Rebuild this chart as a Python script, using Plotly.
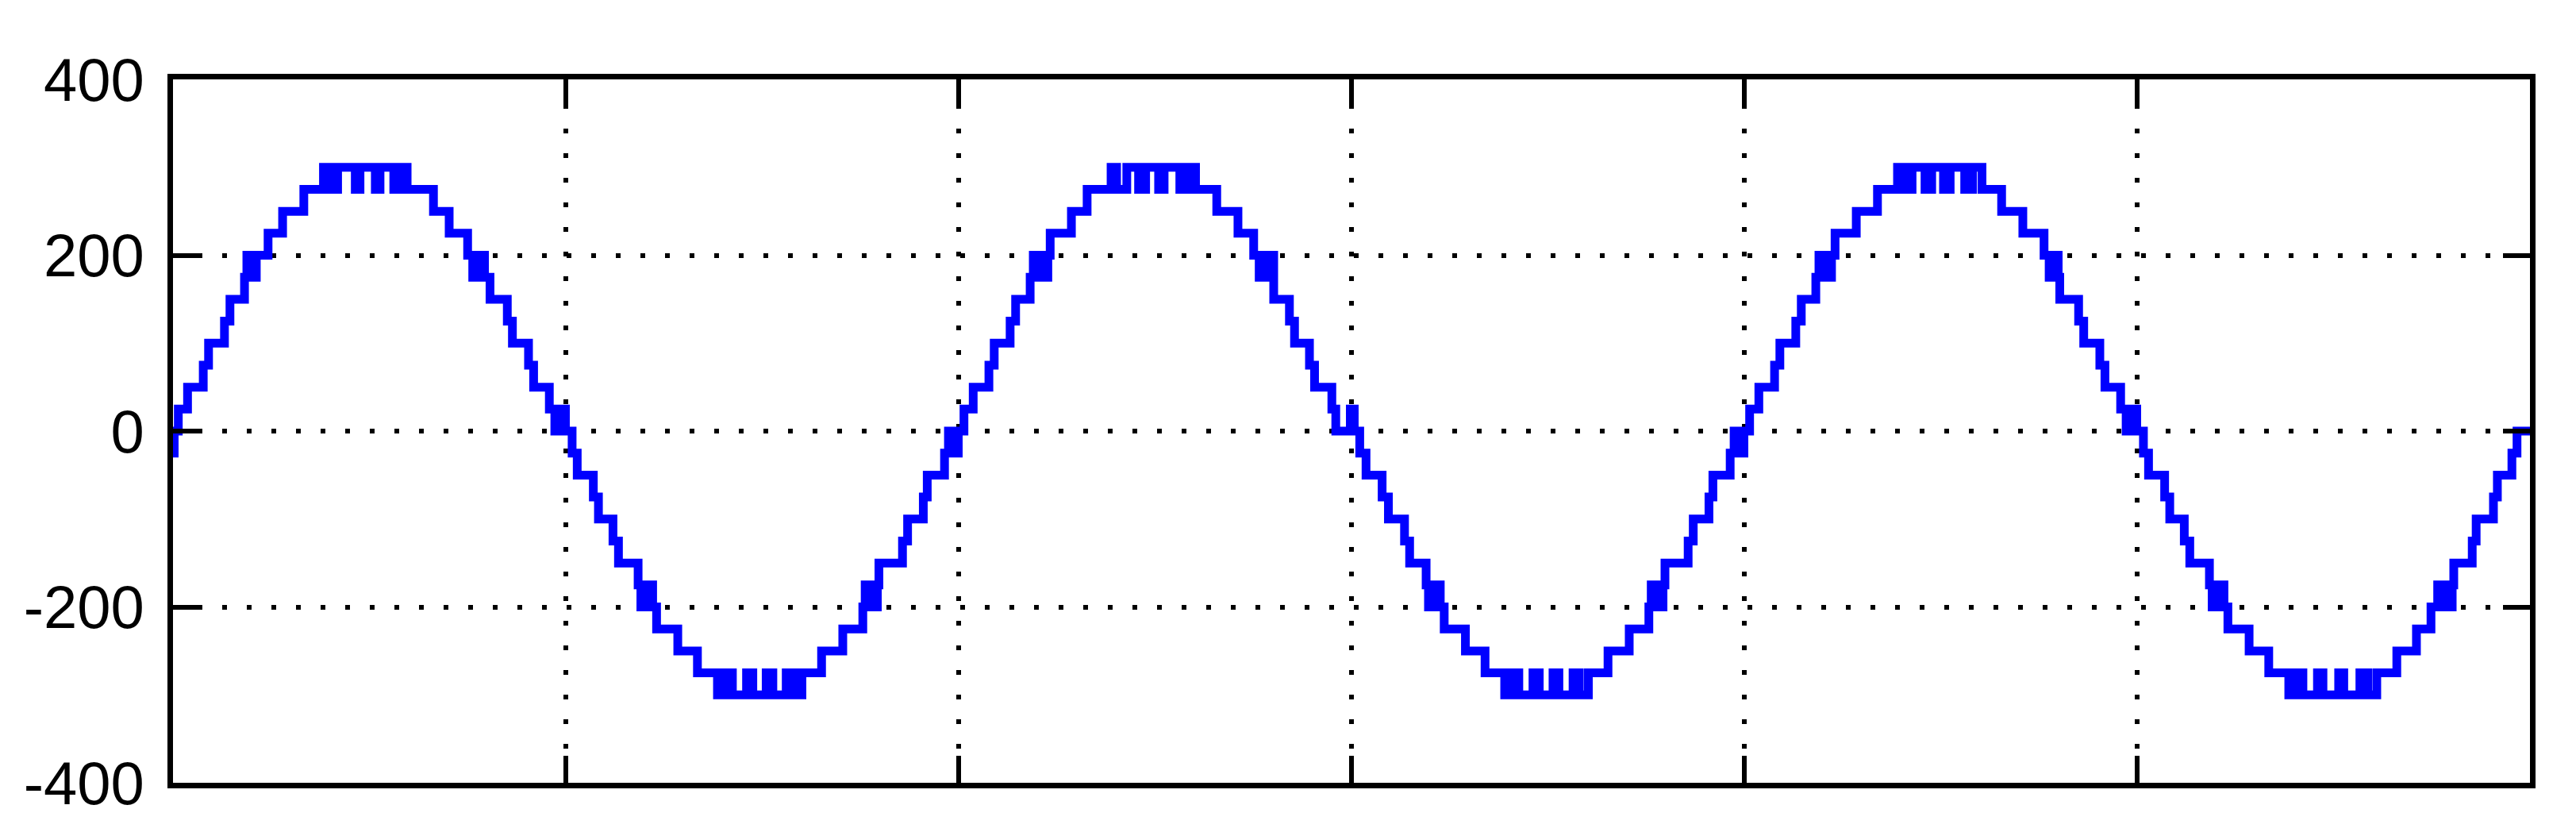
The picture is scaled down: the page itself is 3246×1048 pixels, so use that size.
import plotly.graph_objects as go

# staircase output voltage of the multilevel inverter
# each list: times in ms where the level switches, and the level (V) from that time on

# cycle 1 (0 - 20 ms)
c1_t = [0, 0.03, 0.135, 0.37, 0.77, 0.905, 1.31, 1.45, 1.82, 1.88, 1.94, 2.00, 2.06, 2.12,
        2.42, 2.79, 3.33, 3.83, 4.00, 4.06, 4.10, 4.19, 4.64, 4.76, 5.15, 5.27, 5.62,
        5.84, 5.96, 6.63, 7.03, 7.50, 7.63, 7.84, 7.93, 8.07, 8.51, 8.64, 9.05, 9.18,
        9.58, 9.72, 9.90, 9.99,
        10.16, 10.29, 10.70, 10.83, 11.20, 11.34, 11.84, 11.91, 12.00, 12.21, 12.31,
        12.85, 13.35, 13.86, 14.06, 14.24, 14.60, 14.76, 15.10, 15.27, 15.61, 15.80,
        16.01, 16.51, 17.05, 17.56, 17.62, 17.82, 17.93, 17.97, 18.57, 18.70, 19.10,
        19.20, 19.64, 19.74, 19.91, 19.99]
c1_v = [-25, 0, 25, 50, 75, 100, 125, 150, 175, 200, 175, 200, 175, 200,
        225, 250, 275, 300, 275, 300, 275, 300, 275, 300, 275, 300, 275,
        300, 275, 250, 225, 200, 175, 200, 175, 150, 125, 100, 75, 50,
        25, 0, 25, 0,
        -25, -50, -75, -100, -125, -150, -175, -200, -175, -200, -225,
        -250, -275, -300, -275, -300, -275, -300, -275, -300, -275, -300,
        -275, -250, -225, -200, -175, -200, -175, -150, -125, -100, -75,
        -50, -25, 0, -25, 0]

# cycle 2 (20 - 40 ms)
c2_t = [20.135, 20.37, 20.77, 20.905, 21.31, 21.45, 21.82, 21.90, 22.07, 22.27, 22.33,
        22.87, 23.27, 23.88, 24.02, 24.28, 24.58, 24.76, 25.09, 25.23, 25.63, 25.69,
        25.75, 25.83, 26.03, 26.57, 27.11, 27.51, 27.65, 27.71, 27.77, 27.83, 27.89,
        27.95, 28.02, 28.42, 28.55, 28.93, 29.06, 29.50, 29.60, 29.97, 30.07,
        30.21, 30.37, 30.78, 30.94, 31.35, 31.48, 31.90, 31.96, 32.05, 32.26, 32.36,
        32.90, 33.40, 33.90, 34.10, 34.26, 34.62, 34.78, 35.13, 35.28, 35.64, 35.80,
        36.03, 36.53, 37.07, 37.57, 37.63, 37.83, 37.93, 37.98, 38.57, 38.70, 39.10,
        39.20, 39.64, 39.74, 39.91, 39.99]
c2_v = [25, 50, 75, 100, 125, 150, 175, 200, 175, 200, 225,
        250, 275, 300, 275, 300, 275, 300, 275, 300, 275, 300,
        275, 300, 275, 250, 225, 200, 175, 200, 175, 200, 175,
        200, 150, 125, 100, 75, 50, 25, 0, 25, 0,
        -25, -50, -75, -100, -125, -150, -175, -200, -175, -200, -225,
        -250, -275, -300, -275, -300, -275, -300, -275, -300, -275, -300,
        -275, -250, -225, -200, -175, -200, -175, -150, -125, -100, -75,
        -50, -25, 0, -25, 0]

# cycle 3 (40 - 60 ms)
c3_t = [40.135, 40.37, 40.77, 40.905, 41.31, 41.45, 41.82, 41.90, 42.05, 42.22, 42.31,
        42.85, 43.39, 43.90, 44.10, 44.27, 44.60, 44.77, 45.07, 45.24, 45.61, 45.81,
        46.05, 46.55, 47.09, 47.63, 47.76, 47.93, 47.99, 48.03, 48.51, 48.64, 49.05,
        49.18, 49.58, 49.72, 49.90, 49.99,
        50.16, 50.29, 50.70, 50.83, 51.20, 51.34, 51.84, 51.91, 52.00, 52.21, 52.31,
        52.85, 53.35, 53.86, 54.06, 54.22, 54.59, 54.73, 55.13, 55.26, 55.67, 55.74,
        55.79, 55.87, 56.10, 56.61, 57.11, 57.48, 57.65, 57.71, 57.77, 57.83, 57.89,
        57.95, 58.02, 58.06, 58.53, 58.63, 59.07, 59.17, 59.54, 59.67, 60]
c3_v = [25, 50, 75, 100, 125, 150, 175, 200, 175, 200, 225,
        250, 275, 300, 275, 300, 275, 300, 275, 300, 275, 300,
        275, 250, 225, 200, 175, 200, 175, 150, 125, 100, 75,
        50, 25, 0, 25, 0,
        -25, -50, -75, -100, -125, -150, -175, -200, -175, -200, -225,
        -250, -275, -300, -275, -300, -275, -300, -275, -300, -275, -300,
        -275, -300, -275, -250, -225, -200, -175, -200, -175, -200, -175,
        -200, -175, -150, -125, -100, -75, -50, -25, 0, 0]

t = c1_t + c2_t + c3_t
v = c1_v + c2_v + c3_v

y_ticks = [-400, -200, 0, 200, 400]
y_labels = ["-400", "-200", "0", "200", "400"]
x_ticks = [0, 10, 20, 30, 40, 50, 60]

fig = go.Figure()
fig.add_trace(go.Scatter(
    x=t, y=v, mode="lines",
    line=dict(color="#0000ff", width=11, shape="hv"),
    showlegend=False, hoverinfo="skip"
))

axis_common = dict(
    showline=True, linecolor="black", linewidth=7, mirror="ticks",
    ticks="inside", ticklen=34, tickwidth=6, tickcolor="black",
    showgrid=True, gridcolor="black", gridwidth=6, griddash="6px,25px",
    zeroline=False,
)

fig.update_layout(
    width=3246, height=1048,
    margin=dict(l=210, r=66, t=92, b=70),
    paper_bgcolor="white", plot_bgcolor="white",
    font=dict(family="Liberation Sans, Arial, sans-serif", size=76, color="black"),
    xaxis=dict(range=[0, 60], tickvals=x_ticks, showticklabels=False, **axis_common),
    yaxis=dict(range=[-400, 400], tickvals=y_ticks, ticktext=y_labels,
               ticklabelstandoff=14, automargin=False, **axis_common),
)

fig.write_html("out.html")
